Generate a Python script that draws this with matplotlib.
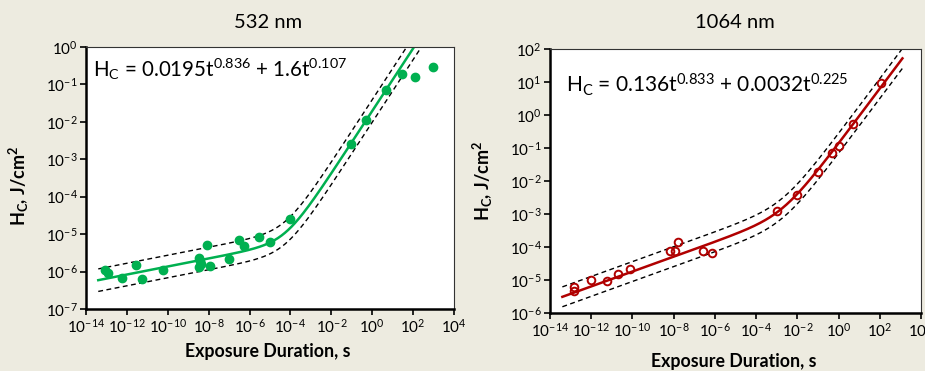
import numpy as np
import matplotlib
matplotlib.use("Agg")
import matplotlib.pyplot as plt

plt.rcParams['font.family'] = ['Lato', 'DejaVu Sans']
plt.rcParams['mathtext.default'] = 'regular'

BG = '#EDEBE0'
W, H = 925, 371

# 532 nm measured thresholds: log10(t / s), log10(H / J cm^-2)
t532 = [-13.07, -12.91, -12.25, -11.55, -11.24, -10.25, -8.45, -8.42, -8.48,
        -8.39, -8.06, -7.95, -7.0, -6.54, -6.27, -5.55, -5.02, -4.01,
        -1.03, -0.31, 0.69, 1.47, 2.07, 2.99]
h532 = [-5.95, -6.04, -6.17, -5.83, -6.21, -5.96, -5.64, -5.71, -5.89,
        -5.79, -5.28, -5.86, -5.67, -5.16, -5.31, -5.07, -5.20, -4.59,
        -2.58, -1.95, -1.16, -0.73, -0.79, -0.53]

# 1064 nm measured thresholds
t1064 = [-12.82, -12.82, -12.01, -11.23, -10.68, -10.10, -8.18, -7.92, -7.81,
         -6.58, -6.14, -3.0, -2.0, -1.01, -0.32, 0.01, 0.69, 2.06]
h1064 = [-5.21, -5.32, -4.99, -5.03, -4.83, -4.66, -4.11, -4.11, -3.85,
         -4.11, -4.19, -2.92, -2.41, -1.74, -1.15, -0.95, -0.26, 0.96]

# fit coefficients: H = a*t^p + b*t^q  (t in s, H in J/cm^2)
fit532 = (0.0195, 0.836, 1.6e-5, 0.107)
fit1064 = (0.136, 0.833, 0.0032, 0.225)
band = 2.0  # dashed bounds are a factor of 2 either side

eq532 = r'$H_C$ = 0.0195t$^{0.836}$ + 1.6t$^{0.107}$'
eq1064 = r'$H_C$ = 0.136t$^{0.833}$ + 0.0032t$^{0.225}$'


def fit_curve(coef, t):
    a, p, b, q = coef
    return a * t**p + b * t**q


def dec_label(v, pos):
    return r'$10^{%d}$' % int(round(np.log10(v)))


def px_axes(x0, x1, ytop, ybot):
    return fig.add_axes([x0 / W, 1 - ybot / H, (x1 - x0) / W, (ybot - ytop) / H])


def draw_panel(ax, t, h, coef, trange, ylim, color, filled):
    ax.set_facecolor('white')
    tt = np.logspace(trange[0], trange[1], 400)
    hh = fit_curve(coef, tt)
    ax.plot(tt, hh * band, ls=(0, (3.5, 2.5)), color='black', lw=1.0)
    ax.plot(tt, hh / band, ls=(0, (3.5, 2.5)), color='black', lw=1.0)
    ax.plot(tt, hh, color=color, lw=1.8)
    if filled:
        ax.plot(10.0**np.array(t), 10.0**np.array(h), 'o', color=color,
                ms=6, mec=color, zorder=5)
    else:
        ax.plot(10.0**np.array(t), 10.0**np.array(h), 'o', mfc='none',
                mec=color, mew=1.4, ms=5.5, zorder=5)
    ax.set_xscale('log')
    ax.set_yscale('log')
    ax.set_xlim(1e-14, 1e4)
    ax.set_ylim(*ylim)
    ax.set_xticks(10.0**np.arange(-14, 5, 2))
    ax.set_yticks(10.0**np.arange(np.log10(ylim[0]), np.log10(ylim[1]) + 1))
    ax.xaxis.set_major_formatter(plt.FuncFormatter(dec_label))
    ax.yaxis.set_major_formatter(plt.FuncFormatter(dec_label))
    ax.minorticks_off()
    ax.tick_params(direction='out', length=4, width=1.2, labelsize=11,
                   colors='black', pad=2)
    for s in ('left', 'bottom'):
        ax.spines[s].set_linewidth(1.8)
    for s in ('top', 'right'):
        ax.spines[s].set_linewidth(0.8)
        ax.spines[s].set_color('#333333')


def fig_label(xpx, ypx, s, **kw):
    fig.text(xpx / W, 1 - ypx / H, s, ha='center', va='center', **kw)


fig = plt.figure(figsize=(W / 100, H / 100), dpi=100, facecolor=BG)

ax1 = px_axes(86, 454, 47, 309)
draw_panel(ax1, t532, h532, fit532, (-13.4, 3.0), (1e-7, 1e0),
           '#00B050', True)
ax1.text(0.02, 0.965, eq532, transform=ax1.transAxes, fontsize=14.8,
         va='top', ha='left')

ax2 = px_axes(550, 921, 49, 313)
draw_panel(ax2, t1064, h1064, fit1064, (-13.4, 3.1), (1e-6, 1e2),
           '#B00000', False)
ax2.text(0.043, 0.915, eq1064, transform=ax2.transAxes, fontsize=15,
         va='top', ha='left')

# titles and axis labels
fig_label(268, 22, '532 nm', fontsize=14.5)
fig_label(735, 22, '1064 nm', fontsize=14.5)
fig_label(268, 352, 'Exposure Duration, s', fontsize=12.8, fontweight='bold')
fig_label(734, 361, 'Exposure Duration, s', fontsize=12.8, fontweight='bold')
fig_label(19, 186, r'$H_C$, J/cm$^2$', fontsize=13, fontweight='bold',
          rotation=90)
fig_label(483, 181, r'$H_C$, J/cm$^2$', fontsize=13, fontweight='bold',
          rotation=90)

fig.savefig('out.png', dpi=100, facecolor=BG)
